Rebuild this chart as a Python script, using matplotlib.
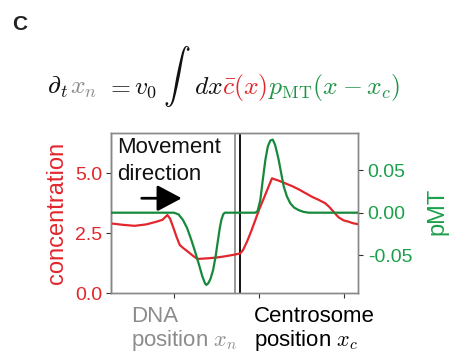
import matplotlib
matplotlib.use("Agg")
import matplotlib.pyplot as plt

plt.rcParams['font.family'] = ['Liberation Sans', 'DejaVu Sans']
plt.rcParams['mathtext.fontset'] = 'cm'
plt.rcParams['axes.unicode_minus'] = False

# ---- data ----
conc_x = [-1.745, -1.60, -1.466, -1.33, -1.212, -1.14, -1.082, -1.05, -1.015, -0.975,
          -0.936, -0.89, -0.839, -0.78, -0.729, -0.63, -0.525, -0.42, -0.321, -0.224,
          -0.19, -0.145, -0.095, -0.047, 0.0, 0.052, 0.10, 0.149, 0.23, 0.306, 0.39,
          0.464, 0.54, 0.620, 0.70, 0.776, 0.82, 0.855, 0.895, 0.934, 0.99, 1.052, 1.10, 1.161]
conc_y = [2.90, 2.84, 2.80, 2.86, 2.97, 3.05, 3.25, 3.10, 2.76, 2.35,
          2.00, 1.86, 1.72, 1.55, 1.42, 1.44, 1.47, 1.52, 1.58, 1.65,
          1.80, 2.14, 2.58, 3.04, 3.50, 3.94, 4.36, 4.78, 4.68, 4.57, 4.45,
          4.32, 4.17, 4.01, 3.88, 3.74, 3.60, 3.46, 3.30, 3.15, 3.03, 2.97, 2.91, 2.87]

pmt_x = [-1.745, -1.004, -0.95, -0.898, -0.85, -0.80, -0.755, -0.713, -0.67, -0.64,
         -0.624, -0.60, -0.575, -0.545, -0.515, -0.486, -0.465, -0.447, -0.425, -0.407,
         -0.047, -0.02, 0.012, 0.04, 0.071, 0.10, 0.13, 0.158, 0.185, 0.21, 0.228,
         0.26, 0.287, 0.325, 0.365, 0.41, 0.464, 0.52, 0.581, 1.161]
pmt_y = [0.0, 0.0, -0.002, -0.0086, -0.018, -0.032, -0.046, -0.060, -0.075, -0.083,
         -0.085, -0.083, -0.078, -0.068, -0.052, -0.032, -0.018, -0.0086, -0.002, 0.0,
         0.0, 0.002, 0.015, 0.038, 0.062, 0.078, 0.085, 0.086, 0.080, 0.070, 0.062,
         0.045, 0.031, 0.019, 0.011, 0.006, 0.003, 0.001, 0.0, 0.0]

dna_pos = -0.286
centrosome_pos = -0.227

conc_ticks = [0.0, 2.5, 5.0]
conc_ticklabels = ["0.0", "2.5", "5.0"]
pmt_ticks = [-0.05, 0.0, 0.05]
pmt_ticklabels = ["-0.05", "0.00", "0.05"]
x_ticks = [-1, 0, 1]

RED = '#e3262d'
GREEN_LINE = '#17893b'
GREEN_TXT = '#1aa04a'
GREEN_EQ = '#1f9446'
GRAY = '#8c8c8c'
DARK = '#111111'

W, H = 450, 360
fig = plt.figure(figsize=(4.5, 3.6), dpi=100)
ax = fig.add_axes([111/W, 67/H, 247/W, 160/H])
ax2 = ax.twinx()

ax.plot(conc_x, conc_y, color=RED, lw=1.6, zorder=3)
ax2.plot(pmt_x, pmt_y, color=GREEN_LINE, lw=1.6, zorder=3)

ax.axvline(dna_pos, color='#999999', lw=1.4)
ax.axvline(centrosome_pos, color='#111111', lw=1.4)

ax.set_xlim(-1.745, 1.161)
ax.set_ylim(0, 6.67)
ax2.set_ylim(-0.0945, 0.0938)

ax.set_xticks(x_ticks)
ax.set_xticklabels([])
ax.set_yticks(conc_ticks)
ax.set_yticklabels(conc_ticklabels)
ax2.set_yticks(pmt_ticks)
ax2.set_yticklabels(pmt_ticklabels)

ax.tick_params(axis='y', colors=RED, labelsize=14, length=3.5, pad=3)
ax.tick_params(axis='y', color='#333333')
ax.tick_params(axis='x', length=3.5, color='#333333')
ax2.tick_params(axis='y', colors=GREEN_TXT, labelsize=14, length=3.5, pad=3.5)
ax2.tick_params(axis='y', color='#333333')

for a in (ax, ax2):
    for s in a.spines.values():
        s.set_color('#888888')
        s.set_linewidth(1.0)
ax.spines['left'].set_color('#444444')

ax.set_ylabel('concentration', color=RED, fontsize=17)
ax.yaxis.set_label_coords(-0.176, 0.5)
ax2.set_ylabel('pMT', color=GREEN_TXT, fontsize=17)
ax2.yaxis.set_label_coords(1.279, 0.51)

# movement annotation
ax.text(0.024, 0.975, 'Movement\ndirection', transform=ax.transAxes, ha='left', va='top',
        fontsize=16, color=DARK, linespacing=1.35)
ax.annotate('', xy=(-0.913, 3.95), xytext=(-1.384, 3.95),
            arrowprops=dict(arrowstyle='-|>,head_length=0.75,head_width=0.4', color='black',
                            lw=2.0, mutation_scale=20, shrinkA=0, shrinkB=0))

# x labels
fig.text(131/W, 1 - 306/H, 'DNA\nposition $x_n$', ha='left', va='top', fontsize=16,
         color=GRAY, linespacing=1.05)
fig.text(254/W, 1 - 306/H, 'Centrosome\nposition $x_c$', ha='left', va='top', fontsize=16,
         color='black', linespacing=1.05)

# panel label
fig.text(12/W, 1 - 30/H, 'C', fontsize=15, fontweight='bold', color='#222222',
         ha='left', va='baseline')

# colored equation: (tex, colour, fontsize, gap before [px], baseline shift [px])
EQ = 18.5
pieces = [(r'\partial_t', DARK, EQ, 0, 0),
          (r'x_n', GRAY, EQ, 2, 0),
          (r'=', DARK, EQ, 9, 0),
          (r'v_0', DARK, EQ, 3, 0),
          (r'\int', DARK, 19.5, 6, 8),
          (r'dx', DARK, EQ, 3, 0),
          (r'\bar{c}(x)', RED, EQ, 0, 0),
          (r'p_{\mathrm{MT}}(x - x_c)', GREEN_EQ, EQ, 0, 0)]
renderer = fig.canvas.get_renderer()
baseline_px = H - 94
xcur = 47
for tex, col, fs, gap, shift in pieces:
    xcur += gap
    t = fig.text(xcur / W, (baseline_px + shift) / H, '$' + tex + '$', fontsize=fs,
                 color=col, ha='left', va='baseline')
    xcur += t.get_window_extent(renderer).width

fig.savefig('out.png', dpi=100)
